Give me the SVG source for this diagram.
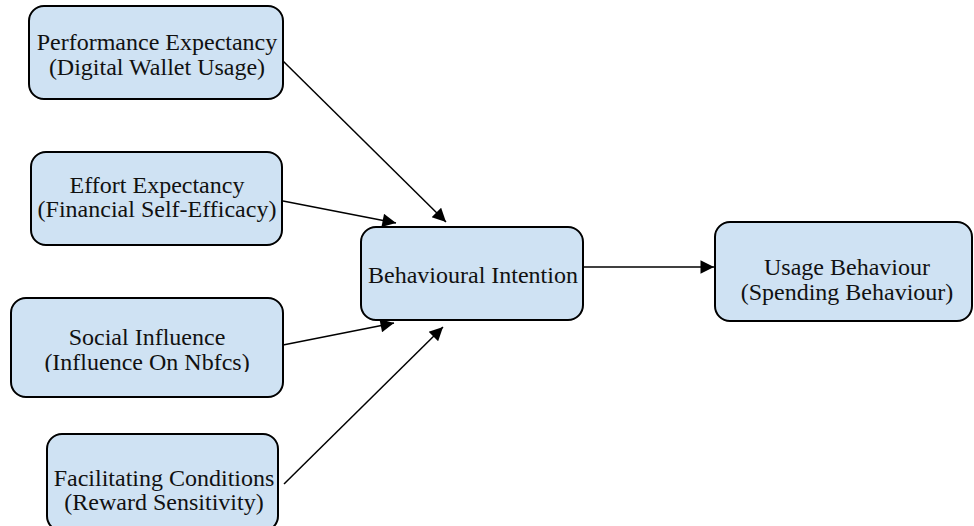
<svg xmlns="http://www.w3.org/2000/svg" width="974" height="526" viewBox="0 0 974 526">
<style>
.box{fill:#cfe2f3;stroke:#000;stroke-width:2}
.t{font-family:"Liberation Serif","Times New Roman",serif;font-size:24px;fill:#111;text-anchor:middle}
.c{stroke:#000;stroke-width:1.5;fill:none;marker-end:url(#ah)}
</style>
<defs>
<marker id="ah" viewBox="0 0 10 10" refX="10" refY="5" markerWidth="10.5" markerHeight="9" markerUnits="strokeWidth" orient="auto">
<path d="M0,0 L10,5 L0,10 z" fill="#000"/>
</marker>
<clipPath id="clip3"><rect x="0" y="290" width="300" height="82"/></clipPath>
</defs>
<rect width="974" height="526" fill="#fff"/>
<g id="connectors">
<line class="c" x1="283" y1="61" x2="446" y2="222"/>
<line class="c" x1="283" y1="201" x2="396" y2="223"/>
<line class="c" x1="283" y1="345" x2="394" y2="323"/>
<line class="c" x1="284" y1="484" x2="443" y2="327"/>
<line class="c" x1="583" y1="267" x2="714" y2="267"/>
</g>
<g id="n1">
<rect class="box" x="29" y="6" width="254" height="93" rx="15"/>
<text class="t" x="157" y="50">Performance Expectancy</text>
<text class="t" x="157" y="75">(Digital Wallet Usage)</text>
</g>
<g id="n2">
<rect class="box" x="31" y="152" width="251" height="93" rx="15"/>
<text class="t" x="157" y="193">Effort Expectancy</text>
<text class="t" x="157" y="217">(Financial Self-Efficacy)</text>
</g>
<g id="n3">
<rect class="box" x="11" y="298" width="272" height="99" rx="15"/>
<g clip-path="url(#clip3)">
<text class="t" x="147" y="345">Social Influence</text>
<text class="t" x="147" y="370">(Influence On Nbfcs)</text>
</g>
</g>
<g id="n4">
<rect class="box" x="47" y="434" width="231" height="97" rx="15"/>
<text class="t" x="164" y="486">Facilitating Conditions</text>
<text class="t" x="164" y="510">(Reward Sensitivity)</text>
</g>
<g id="n5">
<rect class="box" x="361" y="227" width="222" height="93" rx="15"/>
<text class="t" x="473" y="283">Behavioural Intention</text>
</g>
<g id="n6">
<rect class="box" x="715" y="222" width="257" height="99" rx="15"/>
<text class="t" x="847" y="275">Usage Behaviour</text>
<text class="t" x="847" y="300">(Spending Behaviour)</text>
</g>
</svg>
